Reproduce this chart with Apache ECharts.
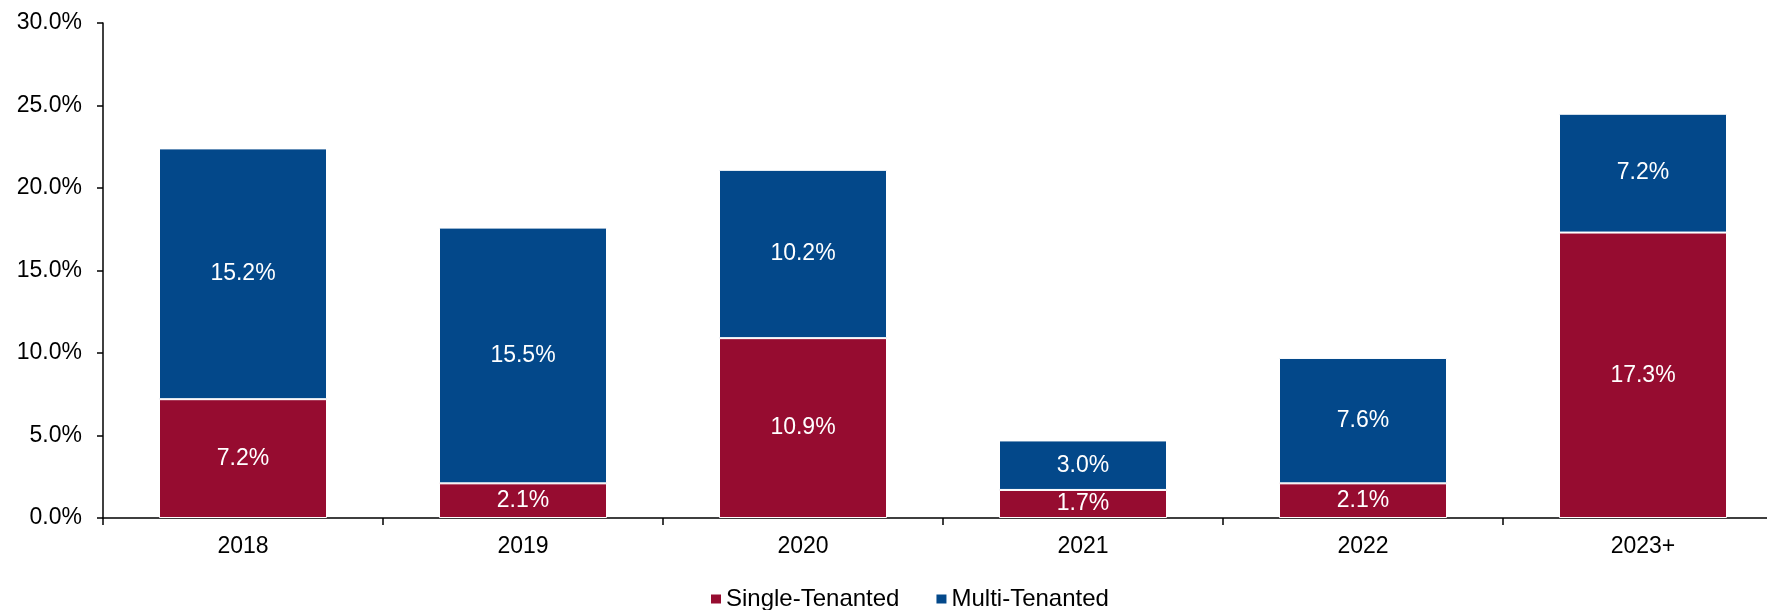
<!DOCTYPE html>
<html>
<head>
<meta charset="utf-8">
<script src="https://cdn.jsdelivr.net/npm/echarts@6/dist/echarts.min.js"></script>
<style>
  html, body { margin: 0; padding: 0; background: #ffffff; }
  #chart { width: 1767px; height: 610px; }
</style>
</head>
<body>
<div id="chart"></div>
<script>
// Lease expiry share by year, split by tenancy type
const categories = ['2018', '2019', '2020', '2021', '2022', '2023+'];
const singleTenanted = [7.2, 2.1, 10.9, 1.7, 2.1, 17.3];
const multiTenanted = [15.2, 15.5, 10.2, 3.0, 7.6, 7.2];
const yTicks = [0, 5, 10, 15, 20, 25, 30];

const FONT = '"Liberation Sans", Arial, sans-serif';
const RED = '#960C30';
const BLUE = '#03488A';

const chart = echarts.init(document.getElementById('chart'), null, { renderer: 'canvas' });

const segmentLabel = {
  show: true,
  position: 'inside',
  color: '#ffffff',
  fontFamily: FONT,
  fontSize: 23,
  formatter: p => p.value.toFixed(1) + '%'
};

chart.setOption({
  animation: false,
  backgroundColor: '#ffffff',
  // plot area runs a little past the right edge of the canvas
  grid: {
    left: 103, width: 1680, top: 23, bottom: 92,
    containLabel: false, outerBoundsMode: 'none'
  },
  legend: {
    top: 587,
    left: 709,
    padding: 0,
    itemWidth: 12,
    itemHeight: 11,
    itemGap: 35,
    icon: 'rect',
    textStyle: { fontFamily: FONT, fontSize: 24, color: '#000000', padding: [0, 0, 0, -1] },
    data: ['Single-Tenanted', 'Multi-Tenanted']
  },
  xAxis: {
    type: 'category',
    data: categories,
    axisLine: { lineStyle: { color: '#000000', width: 1.5 } },
    axisTick: { show: true, length: 7, lineStyle: { color: '#000000', width: 1.5 } },
    axisLabel: { fontFamily: FONT, fontSize: 23, color: '#000000', margin: 17 }
  },
  yAxis: {
    type: 'value',
    min: yTicks[0],
    max: yTicks[yTicks.length - 1],
    interval: 5,
    splitLine: { show: false },
    axisLine: { show: true, lineStyle: { color: '#000000', width: 1.5 } },
    axisTick: { show: true, length: 6, lineStyle: { color: '#000000', width: 1.5 } },
    axisLabel: {
      fontFamily: FONT, fontSize: 23, color: '#000000', margin: 21,
      formatter: v => v.toFixed(1) + '%'
    }
  },
  series: [
    {
      name: 'Single-Tenanted',
      type: 'bar',
      stack: 'total',
      barWidth: '60%',
      data: singleTenanted,
      itemStyle: { color: RED, borderColor: '#ffffff', borderWidth: 1 },
      label: segmentLabel
    },
    {
      name: 'Multi-Tenanted',
      type: 'bar',
      stack: 'total',
      barWidth: '60%',
      data: multiTenanted,
      itemStyle: { color: BLUE, borderColor: '#ffffff', borderWidth: 1 },
      label: segmentLabel
    }
  ]
});
</script>
</body>
</html>
